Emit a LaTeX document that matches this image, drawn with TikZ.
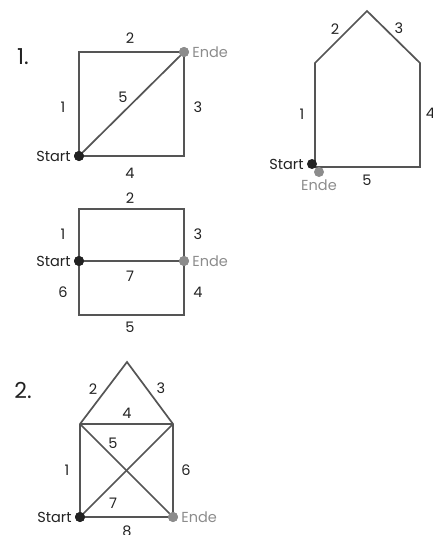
\documentclass[tikz,border=0pt]{standalone}
\usepackage{fontspec}
\setmainfont{Poppins}
\usetikzlibrary{positioning}
\definecolor{linegray}{RGB}{85,85,85}
\definecolor{txtdark}{RGB}{34,34,34}
\definecolor{endgray}{RGB}{140,140,140}

\begin{document}
\begin{tikzpicture}[
  x=1pt, y=-1pt,
  E/.style = {draw=linegray, line width=1.7pt, line join=miter},
  SD/.style = {circle, fill=txtdark, inner sep=0pt, minimum size=10pt},
  ED/.style = {circle, fill=endgray, inner sep=0pt, minimum size=10pt},
  L/.style = {font=\fontsize{14.5}{16}\selectfont, text=txtdark, inner sep=1pt},
  LE/.style = {L, text=endgray},
  T/.style = {font=\fontsize{22}{24}\selectfont, text=txtdark, inner sep=0pt}
]
\useasboundingbox (0,0) rectangle (433,535);

% Task 1, square with diagonal
\node[T] (N1) at (23,57) {1.};
\coordinate (A1) at (79,52);
\coordinate (A3) at (79,156);
\coordinate (A4) at (184,156);
\node[SD] (S1) at (79,156) {};
\node[ED] (Z1) at (184,52) {};
\draw[E] (S1.center) -- (A1) -- (Z1.center) -- (A4) -- (S1.center);
\draw[E] (S1.center) -- (Z1.center);
\node[SD] at (S1) {};
\node[ED] at (Z1) {};
\node[L] at (130,38) {2};
\node[L] at (63,107) {1};
\node[L] at (123,97) {5};
\node[L] at (198,107) {3};
\node[L] at (130,173) {4};
\node[L, left=2pt of S1] {Start};
\node[LE, right=2pt of Z1] {Ende};

% Task 1, house
\coordinate (H0) at (315,167);
\coordinate (H1) at (315,63);
\coordinate (HT) at (367,11);
\coordinate (H2) at (420,63);
\coordinate (H3) at (420,167);
\draw[E] (H0) -- (H1) -- (HT) -- (H2) -- (H3) -- cycle;
\node[ED] (Z2) at (319,172) {};
\node[SD] (S2) at (312,164) {};
\node[L] at (335,29) {2};
\node[L] at (399,28) {3};
\node[L] at (302,114) {1};
\node[L] at (430.5,113) {4};
\node[L] at (367,180) {5};
\node[L, left=2pt of S2] {Start};
\node[LE, below=1pt of Z2] {Ende};

% Task 1, rectangle with middle line
\coordinate (R1) at (79,209);
\coordinate (R2) at (184,209);
\coordinate (R3) at (184,315);
\coordinate (R4) at (79,315);
\node[SD] (S3) at (79,261) {};
\node[ED] (Z3) at (184,261) {};
\draw[E] (R1) -- (R2) -- (R3) -- (R4) -- cycle;
\draw[E] (S3.center) -- (Z3.center);
\node[SD] at (S3) {};
\node[ED] at (Z3) {};
\node[L] at (130,198) {2};
\node[L] at (63,234) {1};
\node[L] at (198,234) {3};
\node[L] at (130,276) {7};
\node[L] at (63,292) {6};
\node[L] at (198,292) {4};
\node[L] at (130,327) {5};
\node[L, left=2pt of S3] {Start};
\node[LE, right=2pt of Z3] {Ende};

% Task 2, house with cross
\node[T] (N2) at (23,390) {2.};
\coordinate (P1) at (80,424);
\coordinate (PT) at (127,362);
\coordinate (P2) at (173,424);
\node[SD] (S4) at (80,517) {};
\node[ED] (Z4) at (173,517) {};
\draw[E] (S4.center) -- (P1) -- (PT) -- (P2) -- (Z4.center) -- cycle;
\draw[E] (P1) -- (P2);
\draw[E] (P1) -- (Z4.center);
\draw[E] (S4.center) -- (P2);
\node[SD] at (S4) {};
\node[ED] at (Z4) {};
\node[L] at (93,389) {2};
\node[L] at (161,388) {3};
\node[L] at (127,413) {4};
\node[L] at (113,443) {5};
\node[L] at (67,470) {1};
\node[L] at (186,470) {6};
\node[L] at (113,503) {7};
\node[L] at (127,531) {8};
\node[L, left=2pt of S4] {Start};
\node[LE, right=2pt of Z4] {Ende};

\end{tikzpicture}
\end{document}
